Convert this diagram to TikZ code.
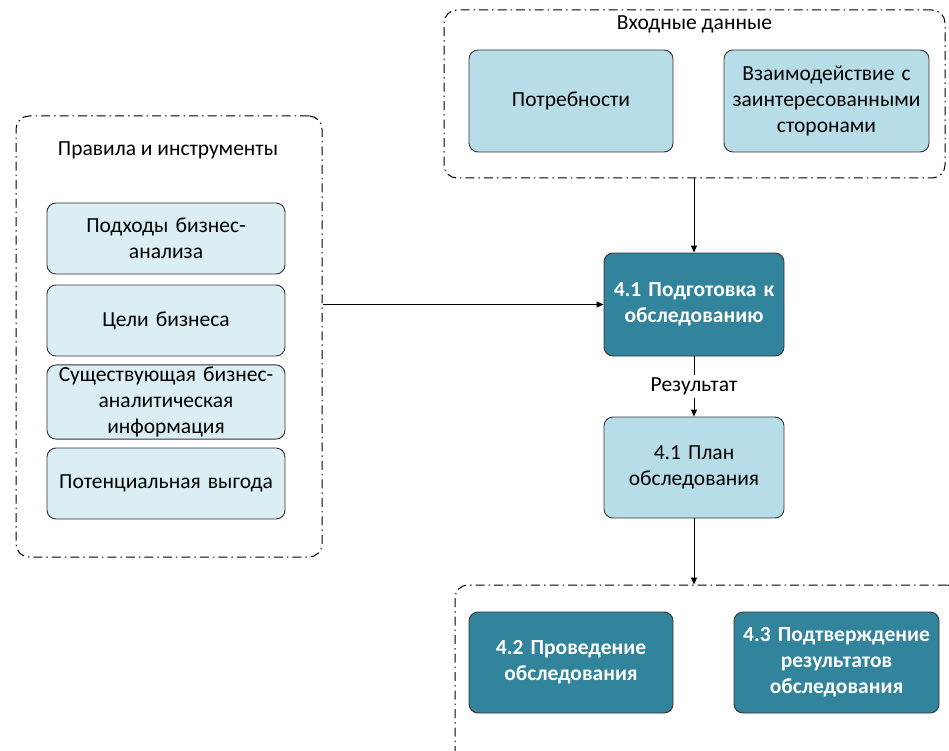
\documentclass[tikz,border=0pt]{standalone}
\usepackage{fontspec}
\setmainfont{Carlito}
\usetikzlibrary{arrows.meta}
\definecolor{darkbox}{HTML}{31849B}
\definecolor{midbox}{HTML}{B7DEE8}
\definecolor{lightbox}{HTML}{DAEEF3}
\begin{document}
\begin{tikzpicture}[x=1pt,y=-1pt,
  basebox/.style={draw=black!80, rounded corners=9pt, line width=0.9pt, align=center,
    font=\fontsize{21.5}{26}\selectfont, inner sep=2pt},
  midstyle/.style={basebox, fill=midbox},
  lightstyle/.style={basebox, fill=lightbox, minimum width=238pt, minimum height=71pt, text width=234pt},
  darkstyle/.style={basebox, fill=darkbox, text=white, font=\fontsize{21.5}{26}\selectfont\bfseries},
  groupbox/.style={draw=black, dash pattern=on 9pt off 4pt on 1.5pt off 4pt, rounded corners=13pt, line width=1pt},
  titletext/.style={font=\fontsize{21.5}{26}\selectfont, inner sep=2pt},
  arr/.style={-{Triangle[length=7pt,width=6pt]}, line width=0.9pt, draw=black}]
\useasboundingbox (0,0) rectangle (949,751);
\clip (0,0) rectangle (949,751);
\fill[white] (0,0) rectangle (949,751);

% Input group
\node[groupbox, minimum width=501pt, minimum height=168pt] (inp) at (694.5,94) {};
\node[titletext] (inpT) at (694.5,24) {Входные данные};
\node[midstyle, minimum width=204pt, minimum height=102pt, text width=200pt] (need) at (571,101) {Потребности};
\node[midstyle, minimum width=205pt, minimum height=102pt, text width=201pt] (inter) at (826.5,101) {Взаимодействие с\\заинтересованными\\сторонами};

% Left group
\node[groupbox, minimum width=306pt, minimum height=441pt] (rules) at (169,336.5) {};
\node[titletext] (rulesT) at (168,150) {Правила и инструменты};
\node[lightstyle] (lb1) at (166,238.5) {Подходы бизнес-\\анализа};
\node[lightstyle] (lb2) at (166,320.5) {Цели бизнеса};
\node[lightstyle] (lb3) at (166,402) {Существующая бизнес-\\аналитическая\\информация};
\node[lightstyle] (lb4) at (166,483.5) {Потенциальная выгода};

% Central process
\node[darkstyle, minimum width=180pt, minimum height=103pt, text width=176pt] (p41) at (694,304.5) {4.1 Подготовка к\\обследованию};
\node[midstyle, minimum width=180pt, minimum height=101pt, text width=176pt] (plan) at (694,467.5) {4.1 План\\обследования};

% Bottom group
\node[groupbox, minimum width=505pt, minimum height=180pt] (next) at (707.5,675) {};
\node[darkstyle, minimum width=204pt, minimum height=101pt, text width=200pt] (b42) at (571,662.5) {4.2 Проведение\\обследования};
\node[darkstyle, minimum width=205pt, minimum height=101pt, text width=201pt] (b43) at (836.5,662.5) {4.3 Подтверждение\\результатов\\обследования};

% Connectors
\draw[arr] (inp.south -| p41.north) -- (p41.north);
\draw[arr] (rules.east |- p41.west) -- (p41.west);
\draw[arr] (p41.south) -- node[fill=white, titletext, inner sep=3pt] (res) {Результат} (plan.north);
\draw[arr] (plan.south) -- (plan.south |- next.north);
\end{tikzpicture}
\end{document}
